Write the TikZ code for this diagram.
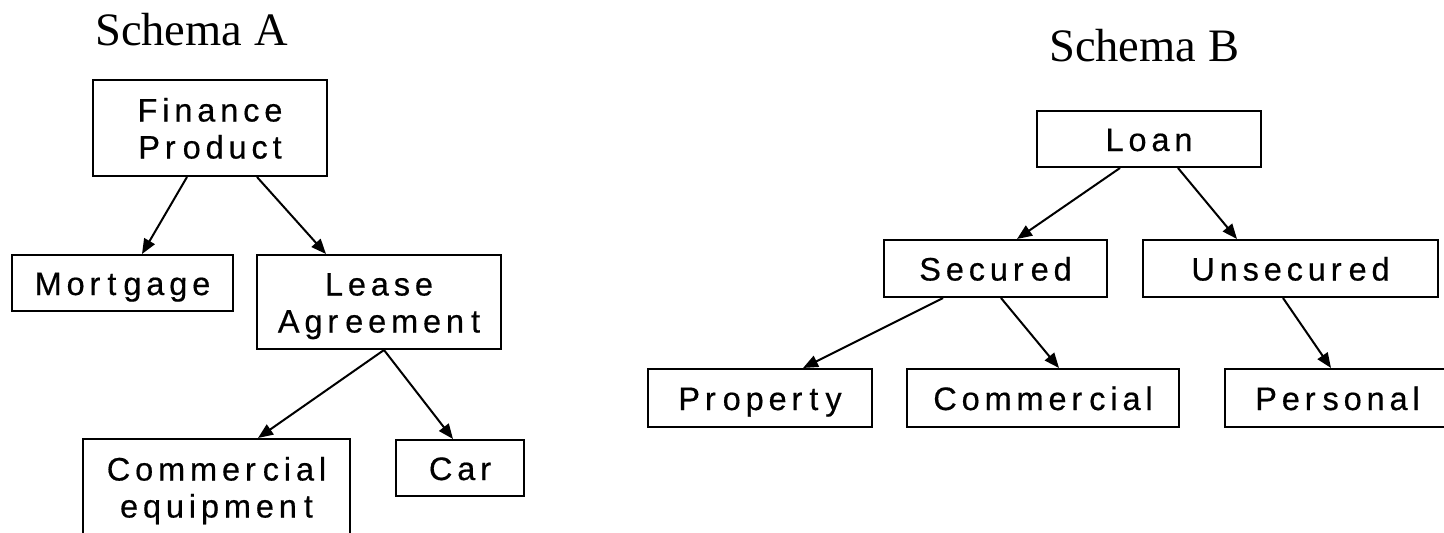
\documentclass[tikz,border=0pt]{standalone}
\usepackage{fontspec}
\setmainfont{Liberation Serif}
\newfontfamily\boxfont[LetterSpace=15,FakeBold=0.5]{Liberation Sans}
\usetikzlibrary{arrows.meta}

% two-line box label with fixed strut height/depth so every box centres alike
\newcommand\twolines[2]{\rule{0pt}{31pt}#1\\#2\rule[-7pt]{0pt}{7pt}}
% box lettering: wide tracking, fixed word gaps
\newcommand\boxtext{\boxfont\fontsize{32.5}{37}\selectfont
  \fontdimen2\font=7pt\fontdimen3\font=0pt\fontdimen4\font=0pt
  \spaceskip=7pt plus 0pt minus 0pt\relax}

\begin{document}
\begin{tikzpicture}[x=1pt,y=-1pt,
  box/.style={draw, line width=2pt, inner sep=0pt, align=center,
    text height=31pt, text depth=7pt, font=\boxtext},
  twobox/.style={draw, line width=2pt, inner sep=0pt, align=center,
    font=\boxtext},
  link/.style={line width=2pt, -{Triangle[length=15pt,width=12pt]}},
  title/.style={anchor=base west, inner sep=0pt,
    font=\fontsize{46.5}{50}\selectfont}]
\useasboundingbox (0,0) rectangle (1444,533);

% ---------- Schema A ----------
\node[title] (ta) at (95,45) {Schema A};
\node[twobox, minimum width=234pt, minimum height=96pt] (fin) at (210,128)
  {\twolines{Finance}{Pr oduct}};
\node[box, minimum width=221pt, minimum height=56pt] (mort) at (122.5,283)
  {Mor t gage};
\node[twobox, minimum width=244pt, minimum height=94pt] (lease) at (379,302)
  {\twolines{Lease}{Agr eemen t}};
\node[twobox, minimum width=267pt, minimum height=96pt] (ce) at (216.5,487)
  {\twolines{Commer cial}{equipmen t}};
\node[box, minimum width=128pt, minimum height=56pt] (car) at (460,468)
  {Car};

\draw[link] ([xshift=-23pt]fin.south) -- ([xshift=19.5pt]mort.north);
\draw[link] ([xshift=47pt]fin.south) -- ([xshift=-53pt]lease.north);
\draw[link] ([xshift=5pt]lease.south) -- ([xshift=41.5pt]ce.north);
\draw[link] ([xshift=5pt]lease.south) -- ([xshift=-7pt]car.north);

% ---------- Schema B ----------
\node[title] (tb) at (1049,61) {Schema B};
\node[box, minimum width=224pt, minimum height=56pt] (loan) at (1149,139)
  {Loan};
\node[box, minimum width=223pt, minimum height=57pt] (sec) at (995.5,268.5)
  {Secur ed};
\node[box, minimum width=295pt, minimum height=57pt] (unsec) at (1290.5,268.5)
  {Unsecur ed};
\node[box, minimum width=224pt, minimum height=58pt] (prop) at (760,398)
  {Pr oper t y};
\node[box, minimum width=272pt, minimum height=58pt] (comm) at (1043,398)
  {Commer cial};
\node[box, minimum width=225pt, minimum height=58pt] (pers) at (1337.5,398)
  {Per sonal};

\draw[link] ([xshift=-29pt]loan.south) -- ([xshift=21.5pt]sec.north);
\draw[link] ([xshift=29pt]loan.south) -- ([xshift=-53.5pt]unsec.north);
\draw[link] ([xshift=-52.5pt]sec.south) -- ([xshift=43pt]prop.north);
\draw[link] ([xshift=5.5pt]sec.south) -- ([xshift=16pt]comm.north);
\draw[link] ([xshift=-7.5pt]unsec.south) -- ([xshift=-6.5pt]pers.north);
\end{tikzpicture}
\end{document}
